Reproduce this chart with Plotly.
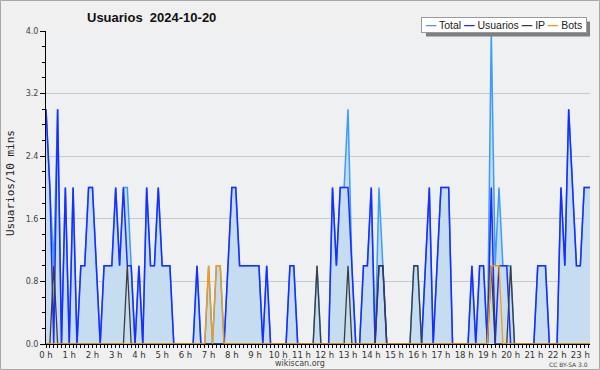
import plotly.graph_objects as go

# 10-minute slots, index 0 = 0:00
hour_labels = [f"{h} h" for h in range(24)]

usuarios = [3, 2, 0, 3, 0, 2,
            0, 2, 0, 1, 1, 2,
            2, 1, 0, 1, 1, 1,
            2, 1, 2, 1, 1, 0,
            1, 0, 2, 1, 1, 2,
            1, 1, 1, 0, 0, 0,
            0, 0, 0, 1, 0, 0,
            0, 0, 0, 0, 0, 1,
            2, 2, 1, 1, 1, 1,
            1, 1, 0, 1, 0, 0,
            0, 0, 0, 1, 1, 0,
            0, 0, 0, 0, 0, 0,
            0, 0, 2, 1, 2, 2,
            2, 1, 0, 0, 1, 1,
            2, 0, 1, 1, 0, 0,
            0, 0, 0, 0, 0, 0,
            0, 0, 1, 2, 0, 1,
            2, 2, 2, 0, 0, 0,
            0, 0, 1, 0, 1, 1,
            0, 2, 0, 1, 1, 1,
            0, 0, 0, 0, 0, 0,
            0, 1, 1, 1, 0, 0,
            0, 2, 1, 3, 2, 1,
            1, 2, 2, 2]

ip = [0, 0, 1, 0, 0, 0,
      0, 0, 0, 0, 0, 0,
      0, 0, 0, 0, 0, 0,
      0, 0, 0, 1, 0, 0,
      0, 0, 0, 0, 0, 0,
      0, 0, 0, 0, 0, 0,
      0, 0, 0, 0, 0, 0,
      0, 0, 0, 0, 0, 0,
      0, 0, 0, 0, 0, 0,
      0, 0, 0, 0, 0, 0,
      0, 0, 0, 0, 0, 0,
      0, 0, 0, 0, 1, 0,
      0, 0, 0, 0, 0, 0,
      1, 0, 0, 0, 0, 0,
      0, 0, 1, 1, 0, 0,
      0, 0, 0, 0, 0, 1,
      1, 0, 0, 0, 0, 0,
      0, 0, 0, 0, 0, 0,
      0, 0, 0, 0, 0, 0,
      0, 1, 0, 0, 0, 0,
      1, 0, 0, 0, 0, 0,
      0, 0, 0, 0, 0, 0,
      0, 0, 0, 0, 0, 0,
      0, 0, 0, 0]

bots = [0, 0, 0, 0, 0, 0,
        0, 0, 0, 0, 0, 0,
        0, 0, 0, 0, 0, 0,
        0, 0, 0, 0, 0, 0,
        0, 0, 0, 0, 0, 0,
        0, 0, 0, 0, 0, 0,
        0, 0, 0, 0, 0, 0,
        1, 0, 1, 1, 0, 0,
        0, 0, 0, 0, 0, 0,
        0, 0, 0, 0, 0, 0,
        0, 0, 0, 0, 0, 0,
        0, 0, 0, 0, 0, 0,
        0, 0, 0, 0, 0, 0,
        0, 0, 0, 0, 0, 0,
        0, 0, 0, 0, 0, 0,
        0, 0, 0, 0, 0, 0,
        0, 0, 0, 0, 0, 0,
        0, 0, 0, 0, 0, 0,
        0, 0, 0, 0, 0, 0,
        0, 1, 1, 1, 0, 0,
        0, 0, 0, 0, 0, 0,
        0, 0, 0, 0, 0, 0,
        0, 0, 0, 0, 0, 0,
        0, 0, 0, 0]

total = [3, 2, 1, 3, 0, 2,
         0, 2, 0, 1, 1, 2,
         2, 1, 0, 1, 1, 1,
         2, 1, 2, 2, 1, 0,
         1, 0, 2, 1, 1, 2,
         1, 1, 1, 0, 0, 0,
         0, 0, 0, 1, 0, 0,
         1, 0, 1, 1, 0, 1,
         2, 2, 1, 1, 1, 1,
         1, 1, 0, 1, 0, 0,
         0, 0, 0, 1, 1, 0,
         0, 0, 0, 0, 1, 0,
         0, 0, 2, 1, 2, 2,
         3, 1, 0, 0, 1, 1,
         2, 0, 2, 1, 0, 0,
         0, 0, 0, 0, 0, 1,
         1, 0, 1, 2, 0, 1,
         2, 2, 2, 0, 0, 0,
         0, 0, 1, 0, 1, 1,
         0, 4, 1, 2, 1, 1,
         1, 0, 0, 0, 0, 0,
         0, 1, 1, 1, 0, 0,
         0, 2, 1, 3, 2, 1,
         1, 2, 2, 2]

slots = list(range(len(usuarios)))
y_ticks = [0, 0.8, 1.6, 2.4, 3.2, 4.0]

C_TOTAL = "#3d9cf5"
C_USU = "#1a2cff"
C_IP = "#3c3c3c"
C_BOTS = "#ff9a00"

fig = go.Figure()
fig.add_trace(go.Scatter(x=slots, y=total, mode="lines", name="Total",
                         line=dict(color=C_TOTAL, width=1.5),
                         fill="tozeroy", fillcolor="#c6ddf1"))
fig.add_trace(go.Scatter(x=slots, y=usuarios, mode="lines", name="Usuarios",
                         line=dict(color=C_USU, width=1.5)))
fig.add_trace(go.Scatter(x=slots, y=ip, mode="lines", name="IP",
                         line=dict(color=C_IP, width=1.3)))
fig.add_trace(go.Scatter(x=slots, y=bots, mode="lines", name="Bots",
                         line=dict(color=C_BOTS, width=1.3)))

W, H = 600, 370
ML, MR, MT, MB = 46, 10, 31, 26
PW, PH = W - ML - MR, H - MT - MB

def px(xp):
    return (xp - ML) / PW

def py(yp):
    return (H - MB - yp) / PH

fig.update_layout(
    width=W, height=H,
    margin=dict(l=ML, r=MR, t=MT, b=MB),
    paper_bgcolor="#f0f0f0",
    plot_bgcolor="#eef0f2",
    showlegend=False,
)

fig.update_xaxes(
    range=[0, 140.5],
    tickmode="array",
    tickvals=[h * 6 for h in range(24)],
    ticktext=hour_labels,
    ticks="outside", ticklen=3, tickcolor="black", tickwidth=1,
    minor=dict(dtick=1, tick0=0, ticks="outside", ticklen=3, tickcolor="black", showgrid=False),
    showline=True, linecolor="black", linewidth=1,
    showgrid=False, zeroline=False,
    tickfont=dict(family="DejaVu Sans", size=8.5, color="#333"),
)
fig.update_yaxes(
    range=[0, 4.0],
    tickmode="array",
    tickvals=y_ticks,
    ticktext=[f"{v:.1f}" for v in y_ticks],
    ticks="outside", ticklen=5, tickcolor="black",
    minor=dict(dtick=0.2, tick0=0, ticks="outside", ticklen=3, tickcolor="black", showgrid=False),
    showline=True, linecolor="black", linewidth=1,
    showgrid=True, gridcolor="#c9c9c9", gridwidth=1, zeroline=False,
    tickfont=dict(family="DejaVu Sans", size=8, color="#444"),
)

def swatch(color):
    return f'<span style="color:{color};font-weight:bold">\u2014</span>'

legend_html = (f"{swatch(C_TOTAL)} Total {swatch(C_USU)} Usuarios "
               f"{swatch(C_IP)} IP {swatch(C_BOTS)} Bots")

annotations = [
    dict(text="<b>Usuarios\u00a0\u00a02024-10-20</b>", xref="paper", yref="paper",
         x=px(85), y=py(17), xanchor="left", yanchor="middle", showarrow=False,
         font=dict(family="Liberation Sans", size=13, color="#111")),
    dict(text="Usuarios/10 mins", xref="paper", yref="paper", textangle=-90,
         x=px(10), y=py(183), xanchor="center", yanchor="middle", showarrow=False,
         font=dict(family="DejaVu Sans Mono", size=11, color="#222")),
    dict(text="wikiscan.org", xref="paper", yref="paper",
         x=px(300), y=py(363), xanchor="center", yanchor="middle", showarrow=False,
         font=dict(family="DejaVu Sans", size=8, color="#444")),
    dict(text="CC BY-SA 3.0", xref="paper", yref="paper",
         x=px(590), y=py(364), xanchor="right", yanchor="middle", showarrow=False,
         font=dict(family="DejaVu Sans", size=6, color="#444")),
    dict(text=legend_html, xref="paper", yref="paper",
         x=px(587), y=py(25.5), xanchor="right", yanchor="middle", showarrow=False,
         width=162, height=12, align="center",
         bgcolor="white", bordercolor="#9a9a9a", borderwidth=1, borderpad=1,
         font=dict(family="Liberation Sans", size=10.5, color="#222")),
]
fig.update_layout(annotations=annotations)

# legend drop shadow
fig.add_shape(type="rect", xref="paper", yref="paper",
              x0=px(426), x1=px(590), y0=py(36.5), y1=py(21.5),
              line=dict(width=0), fillcolor="#7f7f7f", layer="above")

# outer frame
fig.add_shape(type="rect", xref="paper", yref="paper",
              x0=px(0.5), x1=px(W - 0.5), y0=py(H - 0.5), y1=py(0.5),
              line=dict(color="#a8a8a8", width=1), fillcolor="rgba(0,0,0,0)", layer="above")

fig.write_html("out.html")
